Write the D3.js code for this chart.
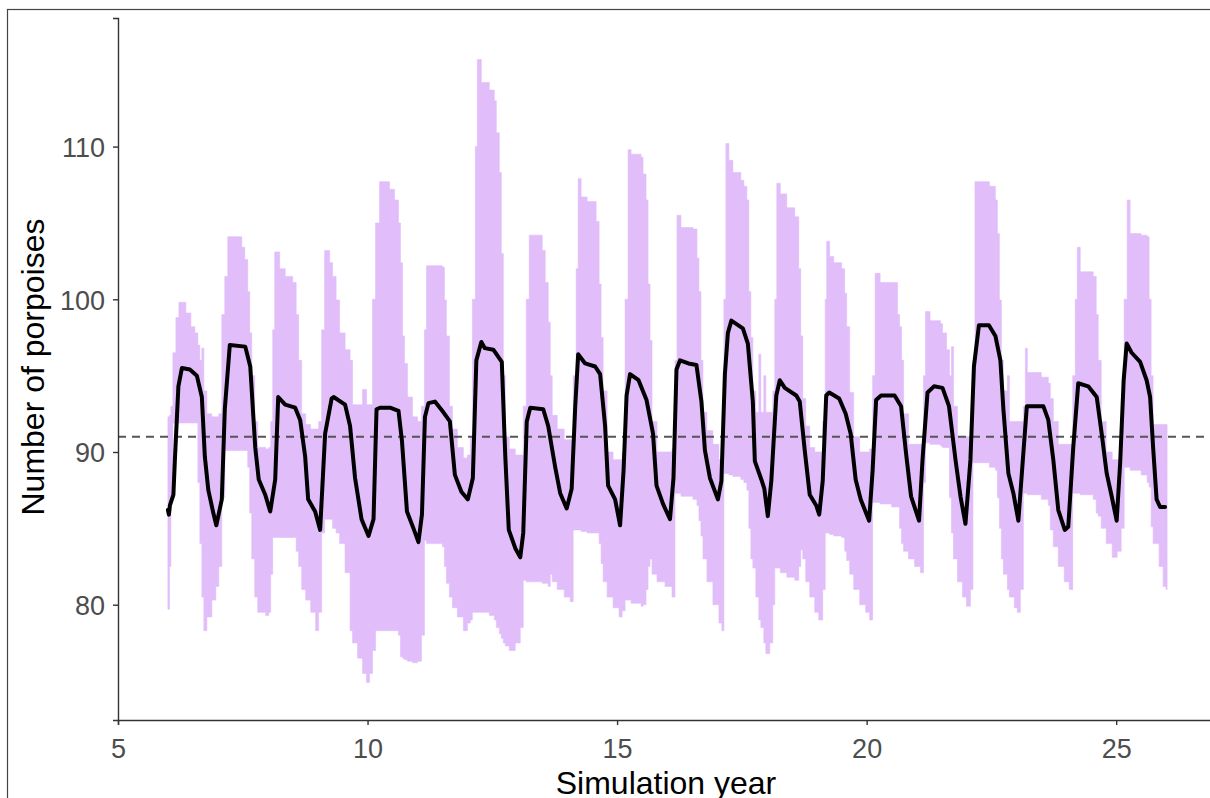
<!DOCTYPE html>
<html>
<head>
<meta charset="utf-8">
<script src="https://cdn.jsdelivr.net/npm/d3@7"></script>
<style>
  html, body { margin: 0; padding: 0; background: #fff; }
  svg { display: block; }
</style>
</head>
<body>
<svg id="chart" width="1210" height="798"></svg>
<script>
// Simulated porpoise population: mean across runs and min-max envelope.

// Axis ticks
const xTicks = [5, 10, 15, 20, 25];
const yTicks = [80, 90, 100, 110];
const referenceLevel = 91;

// Mean number of porpoises (time in simulation years)
const meanYear = [
  6.00, 6.02, 6.04, 6.11, 6.14, 6.21, 6.28, 6.44, 6.58, 6.68, 6.74, 6.81, 6.91, 6.97,
  7.08, 7.14, 7.24, 7.55, 7.65, 7.75, 7.82, 7.95,
  8.05, 8.15, 8.21, 8.35, 8.55, 8.65, 8.75, 8.81, 8.95,
  9.05, 9.15, 9.28, 9.32, 9.55, 9.65, 9.75, 9.88,
  10.02, 10.12, 10.18, 10.25, 10.45, 10.62, 10.69, 10.79, 10.92,
  11.02, 11.09, 11.15, 11.22, 11.35, 11.52, 11.65, 11.75, 11.88,
  12.01, 12.11, 12.18, 12.28, 12.35, 12.52, 12.69, 12.76, 12.83, 12.96,
  13.06, 13.12, 13.19, 13.26, 13.52, 13.62, 13.76, 13.86, 13.99,
  14.09, 14.16, 14.22, 14.36, 14.56, 14.66, 14.76, 14.82, 14.96,
  15.06, 15.13, 15.19, 15.26, 15.43, 15.59, 15.72, 15.79, 15.92,
  16.06, 16.13, 16.19, 16.26, 16.43, 16.59, 16.69, 16.76, 16.86,
  17.02, 17.09, 17.16, 17.22, 17.29, 17.52, 17.62, 17.72, 17.76, 17.89, 17.95,
  18.02, 18.09, 18.19, 18.26, 18.36, 18.59, 18.66, 18.76, 18.86, 18.99,
  19.05, 19.12, 19.19, 19.25, 19.45, 19.58, 19.68, 19.78, 19.88,
  20.05, 20.12, 20.19, 20.29, 20.56, 20.69, 20.79, 20.89,
  21.05, 21.12, 21.22, 21.35, 21.52, 21.65, 21.78, 21.88, 21.98,
  22.08, 22.15, 22.25, 22.45, 22.58, 22.68, 22.74, 22.84, 22.94,
  23.04, 23.11, 23.21, 23.54, 23.64, 23.74, 23.84, 23.97,
  24.04, 24.14, 24.24, 24.44, 24.61, 24.71, 24.81, 24.91,
  25.01, 25.08, 25.15, 25.21, 25.31, 25.48, 25.61, 25.68, 25.74, 25.81, 25.88, 25.98
];
const meanValue = [
  86.2, 85.9, 86.5, 87.2, 89.5, 94.3, 95.5, 95.4, 95.0, 93.6, 89.7, 87.5, 86.0, 85.2,
  86.9, 92.8, 97.0, 96.9, 95.6, 90.3, 88.2, 87.2,
  86.1, 88.2, 93.6, 93.1, 92.9, 92.1, 89.7, 86.9, 86.1,
  84.9, 91.2, 93.5, 93.6, 93.1, 91.7, 88.3, 85.6,
  84.5, 85.6, 92.8, 92.9, 92.9, 92.7, 90.7, 86.1, 85.0,
  84.1, 85.9, 92.3, 93.2, 93.3, 92.6, 92.0, 88.5, 87.4,
  86.9, 88.3, 96.0, 97.2, 96.8, 96.7, 95.9, 89.7, 84.9, 83.7,
  83.1, 84.7, 92.0, 92.9, 92.8, 91.7, 89.0, 87.3, 86.3,
  87.6, 92.9, 96.4, 95.8, 95.6, 95.1, 91.7, 87.8, 86.9,
  85.2, 88.8, 93.7, 95.1, 94.7, 93.4, 91.2, 87.8, 86.6,
  85.6, 88.3, 95.4, 96.0, 95.8, 95.7, 93.3, 90.1, 88.3,
  86.9, 88.1, 95.1, 97.8, 98.6, 98.1, 97.1, 93.3, 89.4, 88.2, 87.6,
  85.8, 88.1, 93.7, 94.7, 94.2, 93.7, 93.3, 90.1, 87.2, 86.5,
  85.9, 88.1, 93.7, 93.9, 93.5, 92.5, 91.2, 88.2, 86.9,
  85.5, 88.8, 93.4, 93.7, 93.7, 93.0, 89.9, 87.1,
  85.5, 89.5, 93.9, 94.3, 94.2, 93.0, 89.5, 87.1, 85.3,
  89.5, 95.6, 98.3, 98.3, 97.6, 96.0, 92.8, 88.6, 87.3,
  85.5, 88.6, 93.0, 93.0, 92.1, 89.5, 86.2, 84.9,
  85.1, 90.3, 94.5, 94.3, 93.6, 91.2, 88.6, 87.1,
  85.5, 89.3, 94.7, 97.1, 96.5, 95.9, 94.7, 93.6, 90.3, 86.9, 86.4, 86.4
];

// Envelope across runs: each value holds until the next time point
const rangeYear = [
  6.00, 6.03, 6.06, 6.10, 6.16, 6.22, 6.36, 6.46, 6.54, 6.60, 6.64, 6.68, 6.72, 6.78, 6.88, 6.96,
  7.02, 7.08, 7.14, 7.20, 7.48, 7.54, 7.60, 7.64, 7.68, 7.74, 7.80, 7.96,
  8.02, 8.06, 8.10, 8.14, 8.24, 8.35, 8.50, 8.57, 8.62, 8.68, 8.76, 8.86, 8.96,
  9.02, 9.08, 9.14, 9.24, 9.30, 9.37, 9.44, 9.55, 9.65, 9.70, 9.80, 9.90, 9.98,
  10.04, 10.10, 10.16, 10.24, 10.44, 10.54, 10.62, 10.66, 10.70, 10.74, 10.80, 10.90,
  11.00, 11.08, 11.14, 11.18, 11.50, 11.54, 11.58, 11.64, 11.70, 11.80, 11.92,
  12.00, 12.06, 12.10, 12.16, 12.20, 12.28, 12.44, 12.54, 12.58, 12.64, 12.68, 12.72, 12.76, 12.84, 12.96,
  13.06, 13.12, 13.18, 13.24, 13.50, 13.56, 13.62, 13.66, 13.70, 13.80, 13.94,
  14.06, 14.12, 14.18, 14.22, 14.28, 14.40, 14.58, 14.64, 14.68, 14.72, 14.80, 14.92,
  15.04, 15.10, 15.16, 15.22, 15.28, 15.48, 15.52, 15.58, 15.62, 15.66, 15.70, 15.80, 15.96,
  16.10, 16.16, 16.20, 16.28, 16.52, 16.60, 16.64, 16.68, 16.72, 16.80, 16.92,
  17.04, 17.10, 17.14, 17.18, 17.24, 17.32, 17.48, 17.54, 17.60, 17.64, 17.68, 17.72, 17.78, 17.84, 17.88, 17.94, 17.98,
  18.06, 18.12, 18.16, 18.20, 18.27, 18.40, 18.56, 18.64, 18.68, 18.72, 18.78, 18.86, 18.96,
  19.04, 19.12, 19.17, 19.20, 19.26, 19.34, 19.50, 19.56, 19.60, 19.66, 19.74, 19.86, 19.98,
  20.06, 20.12, 20.17, 20.27, 20.50, 20.62, 20.66, 20.70, 20.74, 20.84, 20.96,
  21.08, 21.14, 21.18, 21.27, 21.48, 21.52, 21.60, 21.66, 21.70, 21.74, 21.82, 21.92,
  22.00, 22.08, 22.13, 22.17, 22.46, 22.58, 22.62, 22.66, 22.70, 22.74, 22.82, 22.86, 22.96,
  23.02, 23.08, 23.14, 23.18, 23.22, 23.50, 23.64, 23.68, 23.74, 23.84, 23.96,
  24.06, 24.13, 24.18, 24.22, 24.28, 24.54, 24.60, 24.64, 24.70, 24.80, 24.92,
  25.02, 25.10, 25.16, 25.22, 25.28, 25.50, 25.62, 25.66, 25.70, 25.74, 25.86, 25.94, 26.00, 26.02
];
const rangeLow = [
  79.7, 82.5, 86.9, 91.9, 91.9, 91.9, 91.9, 91.9, 91.9, 88.0, 84.0, 80.5, 78.3, 79.2, 80.3, 81.2,
  82.5, 87.0, 90.1, 90.1, 90.1, 90.1, 89.0, 86.0, 83.0, 80.5, 79.5, 79.3,
  79.5, 82.0, 84.4, 84.4, 84.4, 84.4, 84.4, 83.5, 82.5, 81.0, 80.3, 79.5, 78.3,
  79.5, 84.7, 85.6, 85.6, 85.0, 84.7, 84.0, 82.1, 78.3, 77.5, 76.5, 75.5, 74.9,
  75.5, 77.0, 78.3, 78.3, 78.3, 78.3, 78.0, 76.6, 76.5, 76.4, 76.3, 76.2,
  76.3, 78.0, 84.2, 84.0, 83.8, 82.5, 81.4, 80.5, 79.8, 79.2, 78.3,
  78.8, 79.0, 79.5, 79.5, 79.5, 79.5, 79.3, 79.0, 78.5, 78.1, 77.8, 77.5, 77.3, 77.0, 77.5,
  78.5, 81.6, 81.5, 81.5, 81.4, 81.4, 81.2, 82.0, 81.5, 81.0, 80.5,
  80.2, 84.9, 84.9, 84.9, 84.8, 84.7, 84.7, 84.0, 82.7, 81.5, 80.5, 79.8,
  79.2, 79.6, 80.3, 80.3, 80.1, 79.9, 80.0, 81.0, 82.5, 83.0, 82.0, 81.5, 81.2,
  80.5, 87.3, 87.3, 87.1, 86.9, 86.5, 85.5, 84.5, 83.0, 81.5, 80.0,
  78.8, 78.3, 88.6, 88.6, 88.5, 88.4, 88.2, 88.0, 87.5, 85.0, 83.0, 82.4, 80.5, 79.0, 78.5, 77.5, 76.8,
  77.5, 80.0, 82.4, 82.4, 82.1, 81.8, 81.6, 82.5, 83.6, 83.0, 81.5, 80.5, 79.5,
  79.0, 81.0, 84.7, 84.7, 84.6, 84.5, 84.4, 83.5, 82.9, 82.0, 81.0, 80.0, 79.5,
  79.0, 86.7, 86.7, 86.6, 86.4, 86.4, 85.0, 84.0, 83.5, 83.0, 82.5,
  82.1, 88.0, 90.6, 90.5, 90.4, 90.3, 90.3, 87.0, 84.7, 83.0, 81.5, 80.5,
  79.9, 81.0, 89.3, 89.3, 89.0, 88.8, 87.0, 85.0, 83.0, 82.0, 81.0, 80.5, 79.8,
  79.5, 81.0, 87.3, 87.3, 87.2, 86.9, 86.5, 84.9, 83.8, 82.5, 81.5,
  81.0, 87.3, 87.3, 87.3, 87.2, 86.9, 86.0, 85.8, 85.0, 84.0, 83.1,
  83.5, 85.0, 89.0, 89.0, 88.8, 88.5, 88.0, 87.7, 85.1, 84.0, 82.5, 81.2, 81.0, 81.0
];
const rangeHigh = [
  92.3, 92.4, 93.0, 96.5, 98.8, 99.8, 99.1, 98.2, 97.8, 97.0, 96.0, 96.8, 94.0, 92.5, 92.3, 92.3,
  92.5, 99.0, 101.5, 104.1, 103.4, 102.6, 100.5, 97.8, 95.0, 92.0, 90.3, 90.2,
  90.3, 92.0, 98.0, 103.1, 102.0, 101.5, 101.1, 99.0, 96.0, 92.5, 91.8, 91.5, 91.5,
  92.0, 98.0, 103.2, 102.4, 101.5, 99.95, 97.8, 96.7, 96.0, 93.1, 93.1, 94.1, 93.1,
  93.1, 100.0, 105.0, 107.7, 107.2, 106.5, 105.0, 102.4, 97.6, 95.8, 93.6, 92.3,
  92.0, 93.0, 98.0, 102.2, 102.1, 99.95, 97.6, 93.0, 91.5, 90.3, 89.6,
  89.8, 91.0, 100.0, 110.0, 115.7, 114.2, 113.7, 113.0, 110.9, 108.3, 103.0, 95.0, 91.0, 90.2, 89.8,
  89.8, 93.0, 100.0, 104.2, 103.2, 101.1, 98.5, 95.0, 92.4, 91.5, 90.8,
  90.8, 95.0, 102.0, 107.9, 106.7, 106.4, 105.1, 101.0, 97.5, 94.0, 90.0, 89.5,
  89.5, 90.0, 100.0, 109.8, 109.5, 109.3, 108.2, 106.5, 101.0, 97.3, 92.0, 90.0, 90.0,
  90.2, 96.0, 105.5, 104.7, 104.6, 102.7, 100.5, 96.0, 92.6, 91.4, 90.5,
  89.5, 90.0, 100.0, 110.2, 109.1, 108.3, 107.8, 107.4, 106.5, 100.5, 97.5, 94.0, 92.6, 96.4, 92.6, 95.0, 92.6,
  92.6, 94.0, 100.0, 107.6, 106.9, 106.0, 105.4, 102.0, 97.6, 93.5, 91.7, 90.3, 90.0,
  90.0, 92.0, 100.0, 103.8, 102.8, 102.4, 102.0, 100.4, 98.2, 93.9, 91.0, 90.0, 90.0,
  90.2, 95.0, 101.7, 101.1, 101.1, 99.0, 98.2, 96.0, 92.5, 90.5, 90.5,
  90.5, 95.0, 99.2, 98.6, 98.4, 97.8, 96.7, 95.0, 96.9, 93.0, 91.0, 91.0,
  91.0, 91.5, 96.0, 107.7, 107.4, 106.5, 104.3, 99.95, 96.0, 94.0, 95.0, 92.0, 92.0,
  92.0, 92.0, 93.0, 96.8, 95.2, 94.9, 94.5, 93.5, 92.0, 90.5, 90.5,
  90.5, 95.0, 100.0, 103.4, 101.8, 101.5, 99.0, 96.0, 92.0, 90.0, 89.5,
  89.5, 92.0, 100.0, 106.5, 104.3, 104.2, 104.1, 100.0, 95.0, 91.8, 91.8, 91.8, 91.8, 91.8
];

// Layout
const panel = { left: 118, top: 18, right: 1216, bottom: 720 };

const svg = d3.select("#chart");

// Outer frame around the figure
svg.append("rect")
  .attr("x", 7.5).attr("y", 9.5)
  .attr("width", 1300).attr("height", 900)
  .attr("fill", "none")
  .attr("stroke", "#444")
  .attr("stroke-width", 1.2);

const x = d3.scaleLinear().domain([5, 27]).range([panel.left, panel.right]);
const y = d3.scaleLinear().domain([72.45, 118.42]).range([panel.bottom, panel.top]);

svg.append("clipPath").attr("id", "panelClip")
  .append("rect")
  .attr("x", panel.left).attr("y", panel.top)
  .attr("width", panel.right - panel.left).attr("height", panel.bottom - panel.top);

const plot = svg.append("g").attr("clip-path", "url(#panelClip)");

// Min-max envelope
const rangeData = rangeYear.map((t, i) => ({ t, lo: rangeLow[i], hi: rangeHigh[i] }));
const area = d3.area()
  .curve(d3.curveStepAfter)
  .x(d => x(d.t))
  .y0(d => y(d.lo))
  .y1(d => y(d.hi));

plot.append("path")
  .datum(rangeData)
  .attr("d", area)
  .attr("fill", "#e1bdfa")
  .attr("stroke", "#e1bdfa")
  .attr("stroke-width", 0.6);

// Reference level
plot.append("line")
  .attr("x1", panel.left).attr("x2", panel.right)
  .attr("y1", y(referenceLevel)).attr("y2", y(referenceLevel))
  .attr("stroke", "#555")
  .attr("stroke-width", 1.8)
  .attr("stroke-dasharray", "8,6");

// Mean trajectory
const meanData = meanYear.map((t, i) => ({ t, v: meanValue[i] }));
const line = d3.line().x(d => x(d.t)).y(d => y(d.v));
plot.append("path")
  .datum(meanData)
  .attr("d", line)
  .attr("fill", "none")
  .attr("stroke", "#000")
  .attr("stroke-width", 4)
  .attr("stroke-linejoin", "round")
  .attr("stroke-linecap", "round");

// Axes
const fontFamily = "'Liberation Sans', Arial, sans-serif";

const xAxis = svg.append("g")
  .attr("transform", `translate(0,${panel.bottom})`)
  .call(d3.axisBottom(x).tickValues(xTicks).tickSize(5).tickPadding(8).tickFormat(d3.format("d")));
const yAxis = svg.append("g")
  .attr("transform", `translate(${panel.left},0)`)
  .call(d3.axisLeft(y).tickValues(yTicks).tickSize(5).tickPadding(8).tickFormat(d3.format("d")));

[xAxis, yAxis].forEach(g => {
  g.select(".domain").attr("stroke", "#333").attr("stroke-width", 1.4);
  g.selectAll(".tick line").attr("stroke", "#333").attr("stroke-width", 1.4);
  g.selectAll(".tick text")
    .attr("fill", "#4d4d4d")
    .style("font-family", fontFamily)
    .style("font-size", "27px");
});
xAxis.selectAll(".tick text").attr("dy", "0.92em");
yAxis.selectAll(".tick text").attr("dy", "0.36em");

// Axis titles
svg.append("text")
  .attr("x", 666).attr("y", 794)
  .attr("text-anchor", "middle")
  .style("font-family", fontFamily)
  .style("font-size", "32px")
  .attr("fill", "#000")
  .text("Simulation year");

svg.append("text")
  .attr("transform", "translate(44,367) rotate(-90)")
  .attr("text-anchor", "middle")
  .style("font-family", fontFamily)
  .style("font-size", "32px")
  .attr("fill", "#000")
  .text("Number of porpoises");
</script>
</body>
</html>
